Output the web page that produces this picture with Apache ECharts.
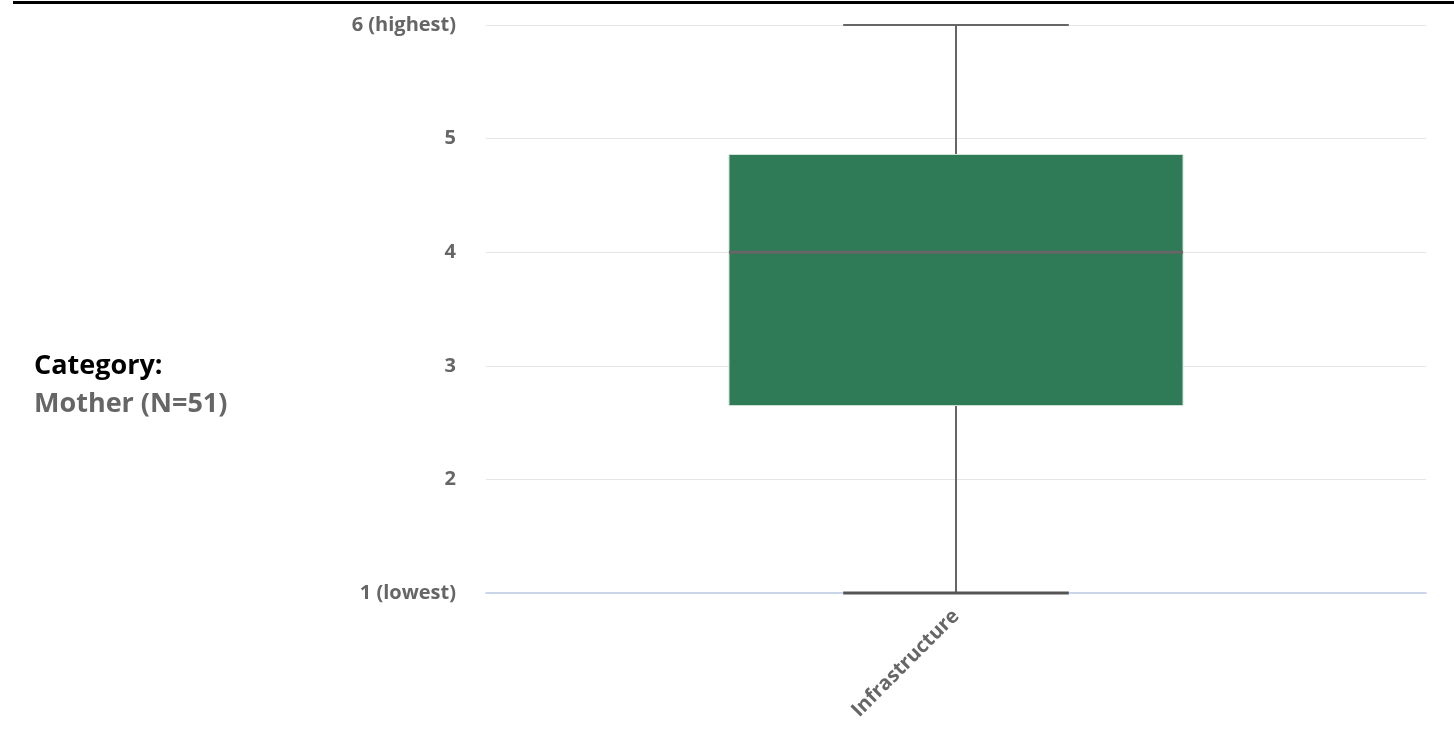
<!DOCTYPE html>
<html>
<head>
<meta charset="utf-8">
<script src="https://cdn.jsdelivr.net/npm/echarts@6/dist/echarts.min.js"></script>
<style>
html,body{margin:0;padding:0;background:#fff;}
#topline{position:absolute;left:13px;top:1px;width:1441px;height:3px;background:#000;}
#chart{width:1454px;height:736px;}
</style>
</head>
<body>
<div id="topline"></div>
<div id="chart"></div>
<script>
const categories = ["Infrastructure"];
// [min, Q1, median, Q3, max]
const boxValues = [[1, 2.65, 4, 4.86, 6]];
const yTickLabels = {1: "1 (lowest)", 2: "2", 3: "3", 4: "4", 5: "5", 6: "6 (highest)"};
const titleLine1 = "Category:";
const titleLine2 = "Mother (N=51)";

const chart = echarts.init(document.getElementById('chart'));
const font = "'Open Sans', sans-serif";

chart.setOption({
  animation: false,
  graphic: [
    {type: 'text', x: 34, y: 366, style: {text: titleLine1, font: "bold 27px 'Open Sans', sans-serif", fill: '#000', verticalAlign: 'middle'}},
    {type: 'text', x: 34, y: 404, style: {text: titleLine2, font: "bold 27px 'Open Sans', sans-serif", fill: '#666', verticalAlign: 'middle'}}
  ],
  grid: {left: 486, right: 28, top: 25, bottom: 143, containLabel: false},
  xAxis: {
    type: 'category',
    data: categories,
    axisLine: {lineStyle: {color: '#ccd6eb', width: 2}},
    axisTick: {show: false},
    axisLabel: {rotate: 45, margin: 20, color: '#666', fontWeight: 'bold', fontSize: 20, fontFamily: font}
  },
  yAxis: {
    type: 'value',
    min: 1, max: 6, interval: 1,
    axisLine: {show: false},
    axisTick: {show: false},
    splitLine: {lineStyle: {color: '#e6e6e6', width: 1}},
    axisLabel: {
      margin: 30, color: '#666', fontWeight: 'bold', fontSize: 20, fontFamily: font,
      formatter: v => yTickLabels[v] !== undefined ? yTickLabels[v] : ''
    }
  },
  series: [{
    type: 'custom',
    data: boxValues.map((b, i) => [i].concat(b)),
    encode: {x: 0, y: [1, 2, 3, 4, 5]},
    renderItem: function (params, api) {
      const idx = api.value(0);
      const band = api.size([1, 0])[0];
      const boxHalf = band * 0.2415;
      const capHalf = band * 0.12;
      const pMin = api.coord([idx, api.value(1)]);
      const pQ1 = api.coord([idx, api.value(2)]);
      const pMed = api.coord([idx, api.value(3)]);
      const pQ3 = api.coord([idx, api.value(4)]);
      const pMax = api.coord([idx, api.value(5)]);
      const cx = pMed[0];
      const lineStyle = {stroke: '#666', lineWidth: 2};
      return {
        type: 'group',
        children: [
          {type: 'line', shape: {x1: cx, y1: pMax[1], x2: cx, y2: pQ3[1]}, style: lineStyle},
          {type: 'line', shape: {x1: cx, y1: pQ1[1], x2: cx, y2: pMin[1]}, style: lineStyle},
          {type: 'line', shape: {x1: cx - capHalf, y1: pMax[1], x2: cx + capHalf, y2: pMax[1]}, style: {stroke: '#666', lineWidth: 2}},
          {type: 'line', shape: {x1: cx - capHalf, y1: pMin[1], x2: cx + capHalf, y2: pMin[1]}, style: {stroke: '#555', lineWidth: 3}},
          {type: 'rect', shape: {x: cx - boxHalf, y: pQ3[1], width: boxHalf * 2, height: pQ1[1] - pQ3[1]}, style: {fill: '#307b57', stroke: '#cfe3d8', lineWidth: 1}},
          {type: 'line', shape: {x1: cx - boxHalf, y1: pMed[1], x2: cx + boxHalf, y2: pMed[1]}, style: {stroke: '#666', lineWidth: 3}}
        ]
      };
    }
  }]
});
</script>
</body>
</html>
